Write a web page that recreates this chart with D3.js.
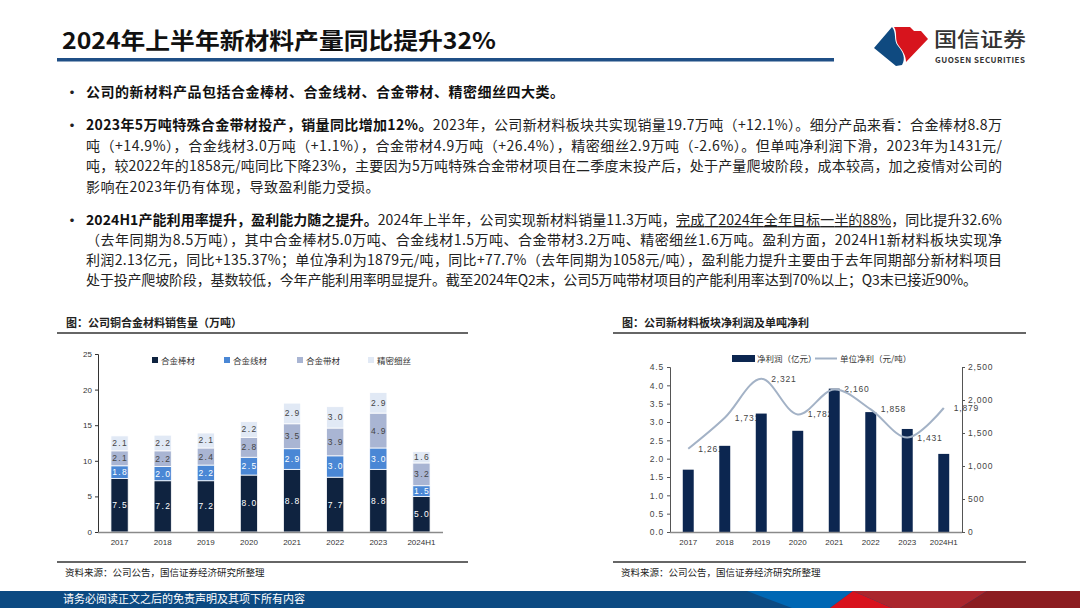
<!DOCTYPE html>
<html>
<head>
<meta charset="utf-8">
<script src="https://cdn.jsdelivr.net/npm/d3@7"></script>
<style>
  body { margin: 0; background: #fff; }
  svg { display: block; }
  .cjk { font-family: "Noto Sans CJK SC", "Noto Sans", sans-serif; }
  .num { font-family: "Liberation Sans", "Noto Sans CJK SC", sans-serif; }
</style>
</head>
<body>
<svg id="page" width="1080" height="608"></svg>
<script>
// --- data ---
const years = ['2017', '2018', '2019', '2020', '2021', '2022', '2023', '2024H1'];
const seriesNames = ['合金棒材', '合金线材', '合金带材', '精密细丝'];
const rodVals = [7.5, 7.2, 7.2, 8.0, 8.8, 7.7, 8.8, 5.0];
const wireVals = [1.8, 2.0, 2.2, 2.5, 2.9, 3.0, 3.0, 1.5];
const stripVals = [2.1, 2.2, 2.4, 2.8, 3.5, 3.9, 4.9, 3.2];
const fineVals = [2.1, 2.2, 2.1, 2.2, 2.9, 3.0, 2.9, 1.6];
const salesTicks = [0, 5, 10, 15, 20, 25];

const profitVals = [1.70, 2.35, 3.23, 2.76, 3.91, 3.27, 2.81, 2.13];   // 净利润（亿元）
const unitVals = [1261, 1731, 2321, 1782, 2160, 1858, 1431, 1879];     // 单位净利（元/吨）
const profitTicks = [0, 0.5, 1, 1.5, 2, 2.5, 3, 3.5, 4, 4.5];
const unitTicks = [0, 500, 1000, 1500, 2000, 2500];

const svg = d3.select('#page');

// --- header ---
svg.append('text').attr('class', 'cjk')
    .attr('x', 62).attr('y', 49)
    .attr('font-size', 23).attr('font-weight', 700).attr('fill', '#111')
    .attr('textLength', 434).attr('lengthAdjust', 'spacingAndGlyphs')
    .text('2024年上半年新材料产量同比提升32%');
svg.append('rect').attr('x', 57).attr('y', 58).attr('width', 777).attr('height', 3.5).attr('fill', '#1f4f86');

// logo
const logo = svg.append('g');
logo.append('path').attr('fill', '#0f4a80')
    .attr('d', 'M874,48 L892,27 C897,33 893,40 898,46 C903,52 906,58 902,65 L896,66 Z');
logo.append('path').attr('fill', '#d7141d')
    .attr('d', 'M894,27 L910,27 L914,31 L921,31 L928,39 L906,62 C906,56 903,51 899,46 C894,40 898,33 894,27 Z');
logo.append('text').attr('class', 'cjk').attr('x', 934).attr('y', 47)
    .attr('font-size', 20).attr('font-weight', 500).attr('fill', '#333')
    .attr('textLength', 92).attr('lengthAdjust', 'spacingAndGlyphs').text('国信证券');
logo.append('text').attr('class', 'cjk').attr('x', 935).attr('y', 62.5)
    .attr('font-size', 8).attr('font-weight', 700).attr('fill', '#333')
    .attr('textLength', 90).text('GUOSEN SECURITIES');

// --- body text ---
const bodyLines = [
    { y: 97, bullet: true, justify: false, parts: [['公司的新材料产品包括合金棒材、合金线材、合金带材、精密细丝四大类。', 'b']] },
    { y: 130, bullet: true, justify: true, parts: [['2023年5万吨特殊合金带材投产，销量同比增加12%。', 'b'], ['2023年，公司新材料板块共实现销量19.7万吨（+12.1%）。细分产品来看：合金棒材8.8万', '']] },
    { y: 151, justify: true, parts: [['吨（+14.9%），合金线材3.0万吨（+1.1%），合金带材4.9万吨（+26.4%），精密细丝2.9万吨（-2.6%）。但单吨净利润下滑，2023年为1431元/', '']] },
    { y: 171, justify: true, parts: [['吨，较2022年的1858元/吨同比下降23%，主要因为5万吨特殊合金带材项目在二季度末投产后，处于产量爬坡阶段，成本较高，加之疫情对公司的', '']] },
    { y: 192, justify: false, parts: [['影响在2023年仍有体现，导致盈利能力受损。', '']] },
    { y: 225, bullet: true, justify: true, parts: [['2024H1产能利用率提升，盈利能力随之提升。', 'b'], ['2024年上半年，公司实现新材料销量11.3万吨，', ''], ['完成了2024年全年目标一半的88%', 'u'], ['，同比提升32.6%', '']] },
    { y: 245, justify: true, parts: [['（去年同期为8.5万吨），其中合金棒材5.0万吨、合金线材1.5万吨、合金带材3.2万吨、精密细丝1.6万吨。盈利方面，2024H1新材料板块实现净', '']] },
    { y: 265, justify: true, parts: [['利润2.13亿元，同比+135.37%；单位净利为1879元/吨，同比+77.7%（去年同期为1058元/吨），盈利能力提升主要由于去年同期部分新材料项目', '']] },
    { y: 285, justify: true, endX: 977, parts: [['处于投产爬坡阶段，基数较低，今年产能利用率明显提升。截至2024年Q2末，公司5万吨带材项目的产能利用率达到70%以上；Q3末已接近90%。', '']] }
];

bodyLines.forEach(line => {
    if (line.bullet) {
        svg.append('text').attr('class', 'cjk').attr('x', 65).attr('y', line.y)
            .attr('font-size', 14).attr('font-weight', 700).attr('fill', '#222').text('•');
    }
    const t = svg.append('text').attr('class', 'cjk')
        .attr('x', 86).attr('y', line.y)
        .attr('font-size', 14).attr('fill', '#222');
    line.parts.forEach(([str, st]) => {
        const sp = t.append('tspan').text(str);
        if (st === 'b') sp.attr('font-weight', 700).attr('fill', '#111');
        if (st === 'u') sp.style('text-decoration', 'underline');
    });
    if (line.justify) {
        t.attr('textLength', (line.endX || 1002) - 86).attr('lengthAdjust', 'spacing');
    } else {
        t.attr('letter-spacing', 0.5);
    }
});

// --- panel frames (titles, rules, sources) ---
function panel(x0, x1, title, titleX) {
    svg.append('text').attr('class', 'cjk').attr('x', titleX).attr('y', 327)
        .attr('font-size', 11).attr('font-weight', 700).attr('fill', '#222').text(title);
    svg.append('line').attr('x1', x0).attr('x2', x1).attr('y1', 333).attr('y2', 333)
        .attr('stroke', '#333').attr('stroke-width', 1.3);
    svg.append('line').attr('x1', x0).attr('x2', x1).attr('y1', 562).attr('y2', 562)
        .attr('stroke', '#333').attr('stroke-width', 1.3);
    svg.append('text').attr('class', 'cjk').attr('x', titleX - 1).attr('y', 576)
        .attr('font-size', 9.5).attr('fill', '#222').text('资料来源：公司公告，国信证券经济研究所整理');
}
panel(57, 468, '图：公司铜合金材料销售量（万吨）', 66);
panel(613, 1026, '图：公司新材料板块净利润及单吨净利', 622);

// --- left chart: stacked bars ---
const salesColors = ['#0f2340', '#4a87d5', '#a9b5d3', '#e1e9f5'];
const salesText = ['#fff', '#fff', '#444', '#444'];
const salesRows = years.map((y, i) => ({
    year: y,
    [seriesNames[0]]: rodVals[i],
    [seriesNames[1]]: wireVals[i],
    [seriesNames[2]]: stripVals[i],
    [seriesNames[3]]: fineVals[i]
}));
const stacked = d3.stack().keys(seriesNames)(salesRows);

const xL = d3.scaleBand().domain(years).range([98, 443]).paddingInner(0.6).paddingOuter(0.3);
const yL = d3.scaleLinear().domain([0, 25]).range([532, 354]);

const gL = svg.append('g');
stacked.forEach((layer, k) => {
    const g = gL.append('g');
    g.selectAll('rect').data(layer).join('rect')
        .attr('x', d => xL(d.data.year))
        .attr('width', xL.bandwidth())
        .attr('y', d => yL(d[1]))
        .attr('height', d => yL(d[0]) - yL(d[1]))
        .attr('fill', salesColors[k])
        .attr('stroke', '#fff').attr('stroke-width', 0.8);
    g.selectAll('text').data(layer).join('text')
        .attr('class', 'num')
        .attr('x', d => xL(d.data.year) + xL.bandwidth() / 2 + 0.7)
        .attr('y', d => (yL(d[0]) + yL(d[1])) / 2)
        .attr('dy', '0.35em')
        .attr('text-anchor', 'middle')
        .attr('font-size', 8.5).attr('letter-spacing', 1.4)
        .attr('fill', salesText[k])
        .text(d => d3.format('.1f')(d[1] - d[0]));
});

const axL = svg.append('g').attr('transform', 'translate(98,0)')
    .call(d3.axisLeft(yL).tickValues(salesTicks).tickSize(3).tickPadding(3));
axL.select('.domain').attr('stroke', '#333');
axL.selectAll('.tick line').attr('stroke', '#333');
axL.selectAll('text').attr('class', 'num').attr('font-size', 8).attr('fill', '#333');

svg.append('line').attr('x1', 98).attr('x2', 443).attr('y1', 532.5).attr('y2', 532.5)
    .attr('stroke', '#8a8a8a').attr('stroke-width', 1.5);
svg.append('g').selectAll('text').data(years).join('text')
    .attr('class', 'num')
    .attr('x', d => xL(d) + xL.bandwidth() / 2).attr('y', 545)
    .attr('text-anchor', 'middle').attr('font-size', 8).attr('fill', '#333')
    .text(d => d);

// legend
const legL = svg.append('g');
const legX = [152, 224, 297, 368];
seriesNames.forEach((n, k) => {
    legL.append('rect').attr('x', legX[k]).attr('y', 357).attr('width', 6).attr('height', 6).attr('fill', salesColors[k]);
    legL.append('text').attr('class', 'cjk').attr('x', legX[k] + 9).attr('y', 363.5)
        .attr('font-size', 8.5).attr('fill', '#333').text(n);
});

// --- right chart: bars + smoothed line ---
const xR = d3.scaleBand().domain(years).range([670, 962]).paddingInner(0.7).paddingOuter(0.35);
const yP = d3.scaleLinear().domain([0, 4.5]).range([532, 367]);
const yU = d3.scaleLinear().domain([0, 2500]).range([532, 367]);
const profitColor = '#0c2650';
const unitColor = '#a3b2c6';

// labels sit under the bars, as in the reference
const unitPts = years.map((d, i) => [xR(d) + xR.bandwidth() / 2, yU(unitVals[i])]);
svg.append('g').selectAll('text').data(unitPts).join('text')
    .attr('class', 'num')
    .attr('x', d => d[0] + 10).attr('y', d => d[1])
    .attr('dy', '0.35em')
    .attr('font-size', 8.5).attr('letter-spacing', 0.8).attr('fill', '#444')
    .text((d, i) => d3.format(',')(unitVals[i]));

svg.append('g').selectAll('rect').data(years).join('rect')
    .attr('x', d => xR(d))
    .attr('width', xR.bandwidth())
    .attr('y', (d, i) => yP(profitVals[i]))
    .attr('height', (d, i) => yP(0) - yP(profitVals[i]))
    .attr('fill', profitColor);

svg.append('path')
    .attr('d', d3.line().curve(d3.curveCatmullRom.alpha(0.5))(unitPts))
    .attr('fill', 'none').attr('stroke', unitColor).attr('stroke-width', 2);

const axP = svg.append('g').attr('transform', 'translate(670,0)')
    .call(d3.axisLeft(yP).tickValues(profitTicks).tickFormat(d3.format('.1f')).tickSize(3).tickPadding(3));
const axU = svg.append('g').attr('transform', 'translate(962,0)')
    .call(d3.axisRight(yU).tickValues(unitTicks).tickFormat(d3.format(',')).tickSize(3).tickPadding(3));
[axP, axU].forEach(ax => {
    ax.select('.domain').attr('stroke', '#555');
    ax.selectAll('.tick line').attr('stroke', '#555');
    ax.selectAll('text').attr('class', 'num').attr('font-size', 8.5)
        .attr('letter-spacing', 0.8).attr('fill', '#444');
});

svg.append('line').attr('x1', 670).attr('x2', 962).attr('y1', 532.5).attr('y2', 532.5)
    .attr('stroke', '#8a8a8a').attr('stroke-width', 1.5);
svg.append('g').selectAll('text').data(years).join('text')
    .attr('class', 'num')
    .attr('x', d => xR(d) + xR.bandwidth() / 2).attr('y', 545)
    .attr('text-anchor', 'middle').attr('font-size', 8).attr('fill', '#333')
    .text(d => d);

const legR = svg.append('g');
legR.append('rect').attr('x', 732).attr('y', 355).attr('width', 23).attr('height', 7).attr('fill', profitColor);
legR.append('text').attr('class', 'cjk').attr('x', 757).attr('y', 361.5)
    .attr('font-size', 8.5).attr('fill', '#333').text('净利润（亿元）');
legR.append('line').attr('x1', 815).attr('x2', 837).attr('y1', 358.5).attr('y2', 358.5)
    .attr('stroke', unitColor).attr('stroke-width', 2);
legR.append('text').attr('class', 'cjk').attr('x', 840).attr('y', 361.5)
    .attr('font-size', 8.5).attr('fill', '#333').text('单位净利（元/吨）');

// --- footer band ---
const foot = svg.append('g');
foot.append('rect').attr('x', 0).attr('y', 591).attr('width', 1080).attr('height', 17).attr('fill', '#0c4a82');
foot.append('polygon').attr('points', '747,591 853,591 830,608 792,608').attr('fill', '#0067b4');
foot.append('polygon').attr('points', '853,591 892,608 830,608').attr('fill', '#d8121d');
foot.append('polygon').attr('points', '853,591 987,591 960,608 892,608').attr('fill', '#aa262d');
foot.append('polygon').attr('points', '987,591 1080,591 1080,608 960,608').attr('fill', '#8c1d21');
foot.append('text').attr('class', 'cjk').attr('x', 63).attr('y', 603)
    .attr('font-size', 11).attr('fill', '#fff').text('请务必阅读正文之后的免责声明及其项下所有内容');
</script>
</body>
</html>
